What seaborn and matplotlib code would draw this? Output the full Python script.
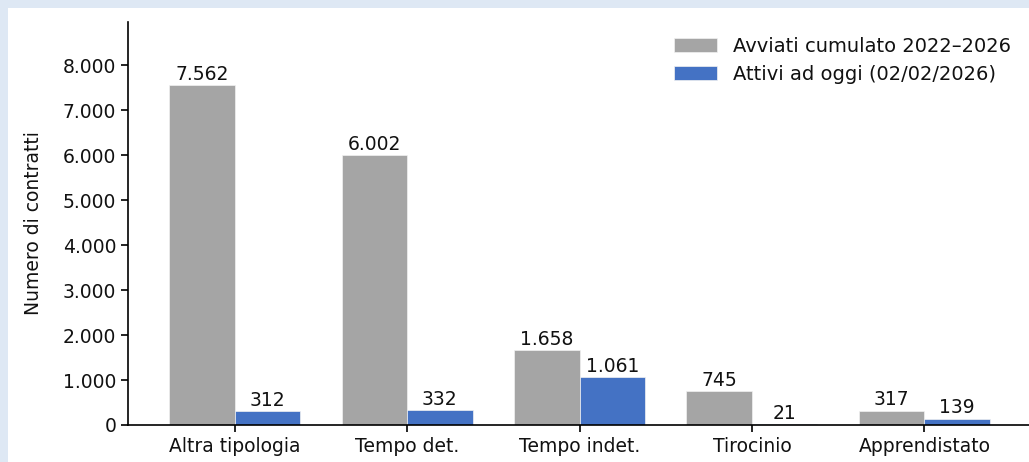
import pandas as pd
import matplotlib
matplotlib.use("Agg")
import matplotlib.pyplot as plt
import seaborn as sns
from matplotlib.patches import Rectangle

# data
categories = ["Altra tipologia", "Tempo det.", "Tempo indet.", "Tirocinio", "Apprendistato"]
avviati = [7562, 6002, 1658, 745, 317]
attivi = [312, 332, 1061, 21, 139]
series_names = ["Avviati cumulato 2022\u20132026", "Attivi ad oggi (02/02/2026)"]
series_colors = ["#a5a5a5", "#4472c4"]

df = pd.DataFrame({
    "categoria": categories * 2,
    "serie": [series_names[0]] * len(categories) + [series_names[1]] * len(categories),
    "valore": avviati + attivi,
})

def fmt_it(v):
    return f"{int(v):,}".replace(",", ".")

sns.set_style("white")
plt.rcParams["font.family"] = ["DejaVu Sans"]
FS = 13.5

W, H = 1029, 462
fig = plt.figure(figsize=(W / 100, H / 100), dpi=100)
fig.patch.set_facecolor("#dee8f4")
# white page area (screenshot crop)
fig.add_artist(Rectangle((8 / W, 0), 1, 1 - 8 / H, transform=fig.transFigure,
                         facecolor="white", edgecolor="none", zorder=0))

ax = fig.add_axes([128 / W, 37 / H, (1031 - 128) / W, (440 - 37) / H])
ax.set_facecolor("none")

sns.barplot(data=df, x="categoria", y="valore", hue="serie",
            palette=series_colors, saturation=1, width=0.76, gap=0,
            ax=ax, errorbar=None, linewidth=0.5, edgecolor="#f2f2f2")

for cont in ax.containers:
    ax.bar_label(cont, labels=[fmt_it(b.get_height()) for b in cont],
                 padding=1, fontsize=FS, color="#111111")

ax.set_xlim(-0.618, len(categories) - 1 + 0.618)
ax.set_ylim(0, max(avviati) * 1.185)
ax.set_yticks(range(0, 9000, 1000))
ax.yaxis.set_major_formatter(matplotlib.ticker.FuncFormatter(lambda v, p: fmt_it(v)))
ax.set_xlabel("")
ax.set_ylabel("Numero di contratti", fontsize=FS, color="#111111", labelpad=14)
ax.tick_params(axis="both", labelsize=FS, length=5, width=1.2, colors="black",
               bottom=True, left=True)
for lab in ax.get_xticklabels() + ax.get_yticklabels():
    lab.set_color("#111111")

sns.despine(ax=ax)
for s in ["left", "bottom"]:
    ax.spines[s].set_linewidth(1.2)
    ax.spines[s].set_color("black")

leg = ax.legend(loc="upper right", bbox_to_anchor=(0.997, 1.006), frameon=False,
                fontsize=FS + 0.5, handlelength=2.2, handleheight=0.7,
                labelspacing=0.45, handletextpad=0.8)
for t in leg.get_texts():
    t.set_color("#111111")

fig.savefig("out.png", dpi=100, facecolor=fig.get_facecolor())
